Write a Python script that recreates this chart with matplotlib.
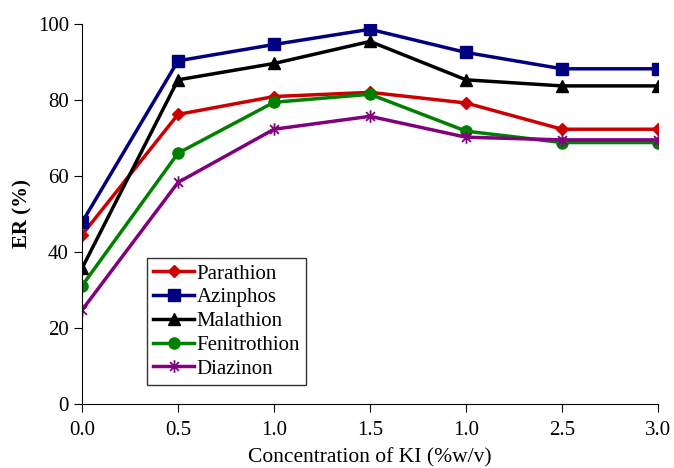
import numpy as np
import matplotlib
matplotlib.use("Agg")
from matplotlib import pyplot as plt
from matplotlib.path import Path

plt.rcParams['font.family'] = ['Liberation Serif', 'DejaVu Serif']

xlabels = ['0.0', '0.5', '1.0', '1.5', '1.0', '2.5', '3.0']
parathion = [44.5, 76.2, 80.9, 82.0, 79.2, 72.3, 72.3]
azinphos = [47.8, 90.3, 94.6, 98.6, 92.5, 88.2, 88.2]
malathion = [35.7, 85.3, 89.6, 95.4, 85.3, 83.7, 83.7]
fenitrothion = [31.1, 66.0, 79.4, 81.5, 71.8, 68.8, 68.8]
diazinon = [24.7, 58.3, 72.3, 75.7, 70.2, 69.5, 69.5]

# excel style asterisk: x plus a vertical bar
d = 0.707
star = Path([(0, -1), (0, 1), (-d, -d), (d, d), (-d, d), (d, -d)],
            [Path.MOVETO, Path.LINETO] * 3)

x = np.arange(len(xlabels))

fig = plt.figure(figsize=(6.74, 4.68), dpi=100)
ax = fig.add_axes([0.1217, 0.1368, 0.8546, 0.812])

ax.plot(x, parathion, color='#cc0000', marker='D', ms=6, lw=2.5, label='Parathion')
ax.plot(x, azinphos, color='#000080', marker='s', ms=8, lw=2.5, label='Azinphos')
ax.plot(x, malathion, color='black', marker='^', ms=8, lw=2.5, label='Malathion')
ax.plot(x, fenitrothion, color='#008000', marker='o', ms=8, lw=2.5, label='Fenitrothion')
ax.plot(x, diazinon, color='#800080', marker=star, ms=9, mew=1.3, lw=2.5, label='Diazinon')

ax.set_xlim(0, 6)
ax.set_ylim(0, 100)
ax.set_xticks(x)
ax.set_xticklabels(xlabels)
ax.set_yticks([0, 20, 40, 60, 80, 100])
ax.spines['top'].set_visible(False)
ax.spines['right'].set_visible(False)
ax.tick_params(labelsize=15, direction='out', length=6)
ax.tick_params(axis='x', pad=6)
ax.set_xlabel('Concentration of KI (%w/v)', fontsize=15.5, labelpad=6)
ax.set_ylabel('ER (%)', fontsize=15, fontweight='bold')

leg = ax.legend(loc='lower left', bbox_to_anchor=(0.112, 0.05), fontsize=15,
                frameon=True, fancybox=False, edgecolor='black', handlelength=2,
                handletextpad=0.1, borderpad=0.3, labelspacing=0.2,
                borderaxespad=0)
leg.get_frame().set_linewidth(1)

fig.savefig('out.png', dpi=100)
